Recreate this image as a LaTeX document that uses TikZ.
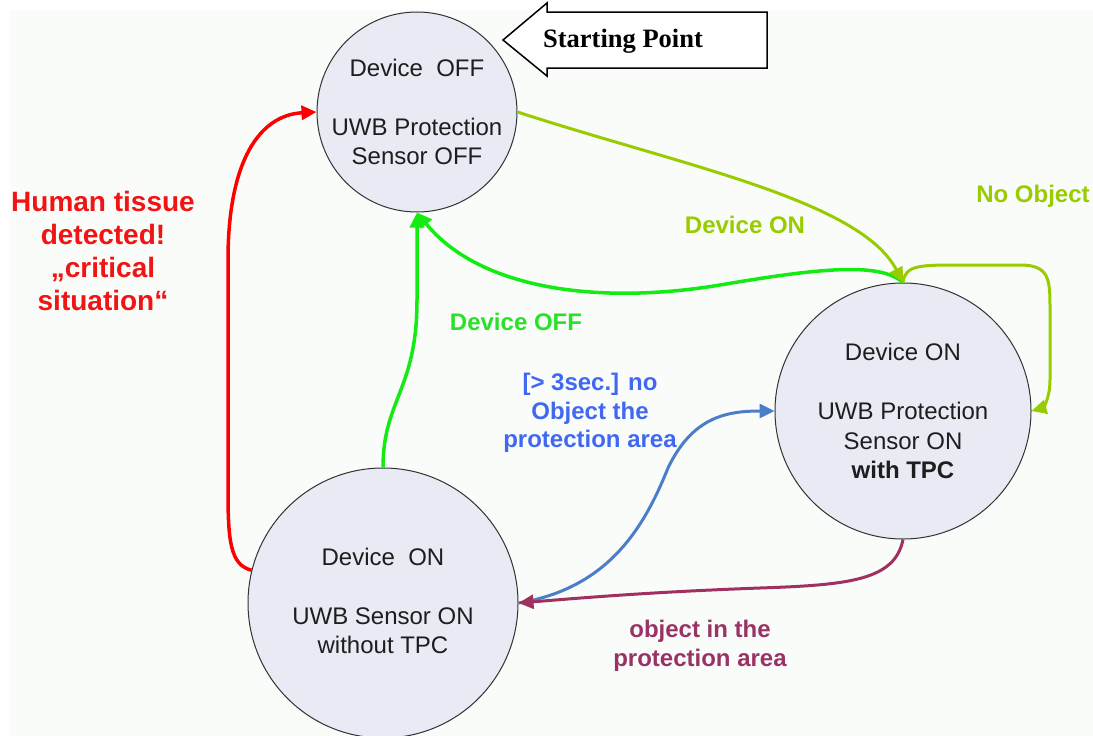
\documentclass[tikz,border=0pt]{standalone}
\usepackage{fontspec}
\setmainfont{Liberation Sans}
\newfontfamily\timesf{Liberation Serif}
\usetikzlibrary{arrows.meta}
\definecolor{cfill}{RGB}{232,234,244}
\definecolor{cedge}{RGB}{50,50,50}
\definecolor{ctext}{RGB}{30,30,30}
\definecolor{panel}{RGB}{250,252,250}
\definecolor{cred}{RGB}{255,0,0}
\definecolor{credt}{RGB}{240,20,20}
\definecolor{cgreen}{RGB}{20,235,20}
\definecolor{cgreent}{RGB}{40,225,40}
\definecolor{cyg}{RGB}{153,204,0}
\definecolor{cblue}{RGB}{74,126,200}
\definecolor{cbluet}{RGB}{64,104,240}
\definecolor{cpurp}{RGB}{160,48,96}
\definecolor{cpurpt}{RGB}{153,51,102}
\tikzset{
  statecirc/.style={circle, draw=cedge, line width=1pt, fill=cfill, inner sep=0pt},
  statetext/.style={align=center, text=ctext, font=\fontsize{24}{29.5}\selectfont, inner sep=0pt},
  lbl/.style={align=center, font=\bfseries\fontsize{24}{28.5}\selectfont, inner sep=0pt},
  conn/.style={line width=3pt, -{Triangle[length=15pt,width=14pt]}},
}
\begin{document}
\begin{tikzpicture}[x=1pt,y=-1pt]
\useasboundingbox (0,0) rectangle (1093,736);
\fill[white] (0,0) rectangle (1093,736);
\fill[panel] (10,10) rectangle (1093,736);

% states
\node[statecirc, minimum size=200pt] (top) at (417,112) {};
\node[statetext] (topT) at (417,112) {Device\ \ OFF\\[29.5pt]UWB Protection\\Sensor OFF};
\node[statecirc, minimum size=256pt] (rc) at (903,411) {};
\node[statetext] (rcT) at (903,411) {Device ON\\[29.5pt]UWB Protection\\Sensor ON\\\textbf{with TPC}};
\node[statecirc, minimum size=270pt] (bl) at (383,603) {};
\node[statetext] (blT) at (383,601) {Device\ \ ON\\[29.5pt]UWB Sensor ON\\without TPC};

% starting point arrow
\draw[line width=1.5pt, fill=white] (503,40) -- (547,3) -- (547,12) -- (767,12) -- (767,68) -- (547,68) -- (547,76) -- cycle;
\node[font=\timesf\bfseries\fontsize{26.5}{30}\selectfont, inner sep=0pt] (start) at (623,41) {Starting Point};

% connectors
\draw[conn, cred, line width=3.5pt] (bl.166) .. controls (230,565) and (228,540) .. (228,490) -- (228,260) .. controls (228,160) and (260,115) .. (top.west);
\draw[conn, cgreen, line width=3.5pt] (bl.north) .. controls (383,400) and (417,390) .. (417,300) -- (top.south);
\draw[conn, cgreen, line width=3.5pt] (rc.north) .. controls (880,262) and (820,268) .. (720,285) .. controls (600,305) and (480,290) .. (top.south);
\draw[conn, cyg] (top.east) .. controls (680,165) and (860,200) .. (rc.north);
\draw[conn, cyg] (rc.north) .. controls (905,265) and (920,265) .. (960,265) -- (1020,265) .. controls (1050,265) and (1050,280) .. (1050,310) -- (1050,380) .. controls (1050,400) and (1042,408) .. (rc.east);
\draw[conn, cblue] (bl.east) .. controls (610,588) and (645,525) .. (668,468) .. controls (692,418) and (725,411) .. (rc.west);
\draw[conn, cpurp] (rc.south) .. controls (895,580) and (850,585) .. (760,588) .. controls (650,592) and (580,598) .. (bl.east);

% labels
\node[lbl, text=credt, font=\bfseries\fontsize{28}{33}\selectfont] (lred) at (103,251) {Human tissue\\detected!\\„critical\\situation“};
\node[lbl, text=cyg] (lon) at (745,225) {Device ON};
\node[lbl, text=cyg] (lno) at (1033,196) {No Object};
\node[lbl, text=cgreent] (loff) at (516,322) {Device OFF};
\node[lbl, text=cbluet] (lblue) at (590,413) {[> 3sec.] no\\Object the\\protection area};
\node[lbl, text=cpurpt] (lpurp) at (700,646) {object in the\\protection area};
\end{tikzpicture}
\end{document}
